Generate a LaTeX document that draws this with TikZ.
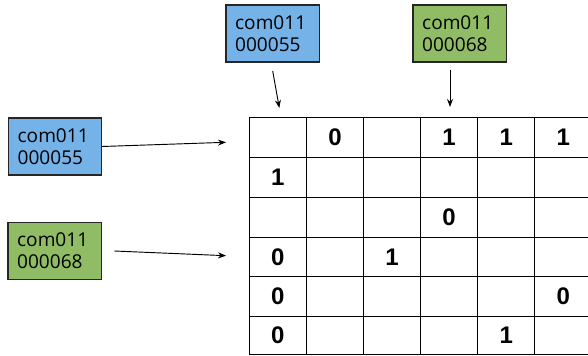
\documentclass[tikz,border=0pt]{standalone}
\usepackage{fontspec}
\setmainfont{Open Sans}
\newfontfamily\numfont{Liberation Sans}
\usetikzlibrary{arrows.meta}
\definecolor{boxblue}{RGB}{117,178,232}
\definecolor{boxgreen}{RGB}{143,188,100}
\begin{document}
\begin{tikzpicture}[x=0.75pt,y=-0.75pt,
  idbox/.style={draw=black!85, line width=0.8pt, minimum width=69.75pt, minimum height=42.75pt,
    text width=56pt, inner xsep=6.9pt, align=left, font=\fontsize{14.3}{16.8}\selectfont},
  arr/.style={-{Stealth[length=6pt,width=4.5pt]}, line width=0.7pt, black},
  grid/.style={line width=1pt, black},
  num/.style={font=\numfont\bfseries\fontsize{18}{18}\selectfont, inner sep=0pt}]
\useasboundingbox (0,0) rectangle (588,356);
% boxes
\node[idbox, fill=boxblue]  (tb) at (272.5,33.5) {com011\\000055};
\node[idbox, fill=boxgreen] (tg) at (459.5,33.5) {com011\\000068};
\node[idbox, fill=boxblue]  (lb) at (55,146.5) {com011\\000055};
\node[idbox, fill=boxgreen] (lg) at (54.5,250.8) {com011\\000068};
% arrow endpoints
\coordinate (tbS) at (272.7,71);
\coordinate (tbE) at (279.3,108);
\coordinate (tgS) at (450,70);
\coordinate (tgE) at (450,107);
\coordinate (lbE) at (226,142.3);
\coordinate (lgS) at (114.3,251);
\coordinate (lgE) at (226,255.7);
\draw[arr] (tbS) -- (tbE);
\draw[arr] (tgS) -- (tgE);
\draw[arr] (lb.east) -- (lbE);
\draw[arr] (lgS) -- (lgE);
% table grid
\foreach \y in {117.5,157.5,197.5,237.3,276.8,316.5,354.5}
  \draw[grid] (249.3,\y) -- (589,\y);
\foreach \x in {249.3,306.4,363.5,420.6,477.7,534.8}
  \draw[grid] (\x,117.5) -- (\x,354.5);
% numbers
\node[num] (r1c2) at (334.95,137.5) {0};
\node[num] (r1c4) at (449.15,137.5) {1};
\node[num] (r1c5) at (506.25,137.5) {1};
\node[num] (r1c6) at (563.35,137.5) {1};
\node[num] (r2c1) at (277.85,177.5) {1};
\node[num] (r3c4) at (449.15,217.4) {0};
\node[num] (r4c1) at (277.85,257.05) {0};
\node[num] (r4c3) at (392.05,257.05) {1};
\node[num] (r5c1) at (277.85,296.65) {0};
\node[num] (r5c6) at (563.35,296.65) {0};
\node[num] (r6c1) at (277.85,335.5) {0};
\node[num] (r6c5) at (506.25,335.5) {1};
\end{tikzpicture}
\end{document}
